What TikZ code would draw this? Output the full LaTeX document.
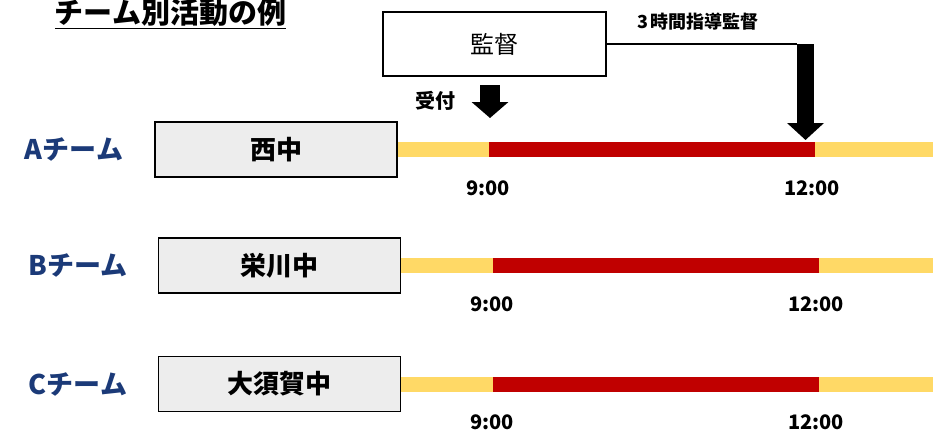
\documentclass[tikz,border=0pt]{standalone}
\usepackage{fontspec}
\setmainfont{Noto Sans CJK JP}
\usetikzlibrary{arrows.meta}
\definecolor{teamblue}{HTML}{1B3A78}
\definecolor{boxgray}{HTML}{EDEDED}
\definecolor{slotyellow}{HTML}{FFD966}
\definecolor{dutyred}{HTML}{C00000}
\begin{document}
\begin{tikzpicture}[x=1pt,y=-1pt,
  school/.style={draw,line width=1.5pt,fill=boxgray,minimum width=242pt,minimum height=55pt,font=\fontsize{26}{30}\selectfont\bfseries},
  team/.style={text=teamblue,font=\fontsize{27}{32}\selectfont\bfseries},
  clock/.style={font=\fontsize{20}{24}\selectfont\bfseries},
  slot/.style={draw=slotyellow,line width=15pt},
  duty/.style={draw=dutyred,line width=15pt},
  fatarrow/.style={line width=17pt,-{Triangle[width=36pt,length=17pt]}}]

  \useasboundingbox (0,0) rectangle (933,432);

  \node[font=\fontsize{29}{34}\selectfont\bfseries] (title) at (170.5,14) {\underline{チーム別活動の例}};

  % supervisor
  \node[draw,line width=1.5pt,minimum width=223pt,minimum height=64pt,font=\fontsize{24}{28}\selectfont] (kantoku) at (494.5,44) {監督};
  \node[font=\fontsize{18}{21}\selectfont\bfseries] (hours) at (698,22) {3\,時間指導監督};
  \node[font=\fontsize{20}{24}\selectfont\bfseries] (uketsuke) at (435,101) {受付};

  % rows
  \foreach \row/\lx/\bx/\by/\name/\rs in {A/74/276/149.5/西中/489, B/78/279.5/265.5/栄川中/493, C/78/279.5/384/大須賀中/493}
  {
    \node[team] (team\row) at (\lx,\by) {\row チーム};
    \coordinate (end\row) at (933,\by);
    \coordinate (start\row) at (\rs,\by);
    \coordinate (stop\row) at (\rs+326,\by);
    \draw[slot] (\bx+121,\by) -- (end\row);
    \draw[duty] (start\row) -- (stop\row);
    \node[school] (school\row) at (\bx,\by) {\name};
    \node[clock] (nine\row) at (\rs-1,\by+38.5) {9:00};
    \node[clock] (noon\row) at (\rs+323,\by+38.5) {12:00};
  }

  % arrows
  \coordinate (bend) at (797,44);
  \coordinate (bigtop) at (805.5,44);
  \coordinate (bigtip) at (805.5,140);
  \draw[line width=1.5pt] (kantoku.east) -- (bend);
  \draw[fatarrow] (bigtop) -- (bigtip);
  \coordinate (smalltop) at (490,85);
  \coordinate (smalltip) at (490,118);
  \draw[line width=20pt,-{Triangle[width=36pt,length=16pt]}] (smalltop) -- (smalltip);
\end{tikzpicture}
\end{document}
